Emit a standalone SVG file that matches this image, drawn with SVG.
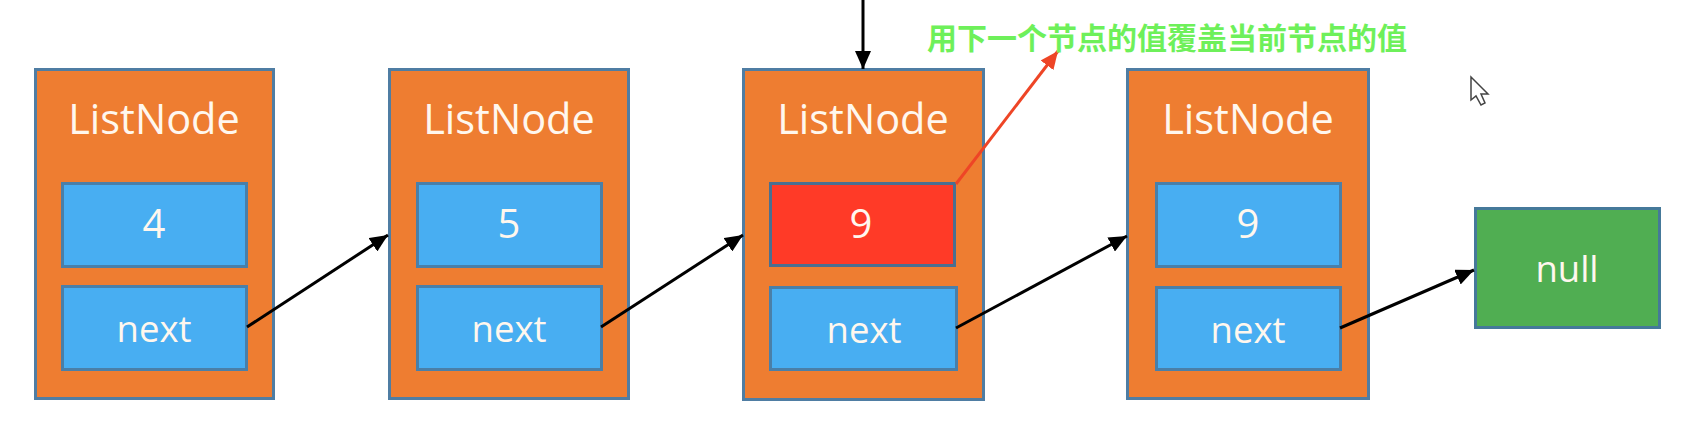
<svg xmlns="http://www.w3.org/2000/svg" width="1698" height="430" viewBox="0 0 1698 430">
<style>
.o{fill:#ee7d31;stroke:#4f7da3;stroke-width:3}
.b{fill:#48aef2;stroke:#4a7fa8;stroke-width:3}
.r{fill:#ff3a27;stroke:#4a6f90;stroke-width:3}
.g{fill:#50ae52;stroke:#45799a;stroke-width:3}
text{font-family:"Open Sans","Noto Sans",sans-serif;fill:#fff7ee;text-anchor:middle}
.t{font-size:41.500px}
.v{font-size:40px}
.n{font-size:36.500px}
.c{stroke:#000;stroke-width:3;fill:none;marker-end:url(#k)}
.e{stroke:#ee4526;stroke-width:3;fill:none;marker-end:url(#h)}
.l{font-family:"Noto Sans CJK SC",sans-serif;font-size:30px;font-weight:700;fill:#6ef05a;text-anchor:start}
</style>
<defs>
<marker id="k" markerUnits="userSpaceOnUse" markerWidth="19" markerHeight="16" refX="18" refY="8" orient="auto"><path d="M0 0L18 8L0 16Z" fill="#000"/></marker>
<marker id="h" markerUnits="userSpaceOnUse" markerWidth="19" markerHeight="16" refX="18" refY="8" orient="auto"><path d="M0 0L18 8L0 16Z" fill="#ee4526"/></marker>
</defs>
<rect width="1698" height="430" fill="#fff"/>
<g id="node1"><rect class="o" x="35.500" y="69.500" width="238" height="329"/><text class="t" x="154" y="134">ListNode</text><rect class="b" x="62.500" y="183.500" width="184" height="83"/><text class="v" x="154" y="238">4</text><rect class="b" x="62.500" y="286.500" width="184" height="83"/><text class="n" x="154" y="342">next</text></g>
<g id="node2"><rect class="o" x="389.500" y="69.500" width="239" height="329"/><text class="t" x="509" y="134">ListNode</text><rect class="b" x="417.500" y="183.500" width="184" height="83"/><text class="v" x="509" y="238">5</text><rect class="b" x="417.500" y="286.500" width="184" height="83"/><text class="n" x="509" y="342">next</text></g>
<g id="node3"><rect class="o" x="743.500" y="69.500" width="240" height="330"/><text class="t" x="863" y="134">ListNode</text><rect class="r" x="770.500" y="183.500" width="184" height="82"/><text class="v" x="861" y="238">9</text><rect class="b" x="770.500" y="287.500" width="186" height="82"/><text class="n" x="864" y="343">next</text></g>
<g id="node4"><rect class="o" x="1127.500" y="69.500" width="241" height="329"/><text class="t" x="1248" y="134">ListNode</text><rect class="b" x="1156.500" y="183.500" width="184" height="83"/><text class="v" x="1248" y="238">9</text><rect class="b" x="1156.500" y="287.500" width="184" height="82"/><text class="n" x="1248" y="343">next</text></g>
<g id="nullnode"><rect class="g" x="1475.500" y="208.500" width="184" height="119"/><text class="n" x="1567" y="282">null</text></g>
<g id="connectors">
<path class="c" d="M247 327L388 235"/>
<path class="c" d="M601 327L743 235"/>
<path class="c" d="M956 328L1127 236"/>
<path class="c" d="M1340 328L1474 270"/>
<path class="c" d="M863 0V69"/>
<path class="e" d="M956 184L1058 51"/>
</g>
<text class="l" x="927" y="49">用下一个节点的值覆盖当前节点的值</text>
<path id="cursor" d="M1471 77V100L1476 96L1481 105L1485 103L1481 94L1488 94Z" fill="#fff" stroke="#444" stroke-width="1.500"/>
</svg>
